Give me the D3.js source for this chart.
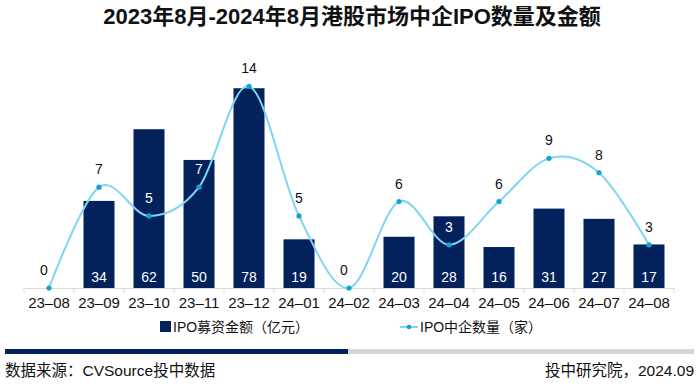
<!DOCTYPE html>
<html>
<head>
<meta charset="utf-8">
<script src="https://cdn.jsdelivr.net/npm/d3@7"></script>
<style>
  body { margin: 0; background: #fff; }
  text { font-family: "Liberation Sans", Arial, "Noto Sans CJK SC", sans-serif; }
</style>
</head>
<body>
<svg id="chart" width="700" height="389"></svg>
<script>
// months, IPO amount (亿元) and count (家)
var months = ["23-08","23-09","23-10","23-11","23-12","24-01","24-02","24-03","24-04","24-05","24-06","24-07","24-08"];
var amounts = [0, 34, 62, 50, 78, 19, 0, 20, 28, 16, 31, 27, 17];
var counts = [0, 7, 5, 7, 14, 5, 0, 6, 3, 6, 9, 8, 3];

var svg = d3.select("#chart");
var m = {left: 24, right: 674, top: 57.5, bottom: 288};

var x = d3.scaleBand().domain(months).range([m.left, m.right]);
var yBar = d3.scaleLinear().domain([0, 90]).range([m.bottom, m.top]);
var yLine = d3.scaleLinear().domain([0, 16]).range([m.bottom, m.top]);
var cx = d => x(d) + x.bandwidth() / 2;

// title
svg.append("text")
  .attr("x", 352).attr("y", 24)
  .attr("text-anchor", "middle")
  .attr("font-size", 22).attr("font-weight", "bold")
  .attr("fill", "#111")
  .text("2023年8月-2024年8月港股市场中企IPO数量及金额");

// bars
var barW = 31;
svg.selectAll(".bar").data(months).enter().append("rect")
  .attr("x", d => cx(d) - barW / 2)
  .attr("y", (d, i) => yBar(amounts[i]))
  .attr("width", barW)
  .attr("height", (d, i) => m.bottom - yBar(amounts[i]))
  .attr("fill", "#03215b");

svg.selectAll(".barlab").data(months).enter().append("text")
  .filter((d, i) => amounts[i] > 0)
  .attr("x", d => cx(d))
  .attr("y", m.bottom - 6)
  .attr("text-anchor", "middle")
  .attr("font-size", 14)
  .attr("fill", "#fff")
  .text(d => amounts[months.indexOf(d)]);

// axis
var axis = d3.axisBottom(x).tickSize(0).tickPadding(9).tickFormat(d => d.replace("-", "–"));
var gx = svg.append("g").attr("transform", "translate(0," + m.bottom + ")").call(axis);
gx.select(".domain").attr("stroke", "#d9d9d9");
gx.selectAll("text").attr("font-size", 15).attr("fill", "#111")
  .attr("font-family", "Liberation Sans, Arial, sans-serif");
gx.selectAll(".sep").data(d3.range(months.length + 1)).enter().append("line")
  .attr("x1", i => m.left + i * x.bandwidth()).attr("x2", i => m.left + i * x.bandwidth())
  .attr("y1", 0).attr("y2", 5)
  .attr("stroke", "#d9d9d9");

// line
var line = d3.line()
  .x((d, i) => cx(months[i]))
  .y(d => yLine(d))
  .curve(d3.curveCatmullRom.alpha(0));

svg.append("path").datum(counts)
  .attr("d", line)
  .attr("fill", "none")
  .attr("stroke", "#7fd5f2")
  .attr("stroke-width", 2);

svg.selectAll(".pt").data(counts).enter().append("circle")
  .attr("cx", (d, i) => cx(months[i]))
  .attr("cy", d => yLine(d))
  .attr("r", 2.6)
  .attr("fill", "#17a2d6");

// count labels: white where they sit over a bar
svg.selectAll(".ptlab").data(counts).enter().append("text")
  .attr("x", (d, i) => cx(months[i]) - (d === 0 ? 5 : 0))
  .attr("y", d => yLine(d) - 13)
  .attr("text-anchor", "middle")
  .attr("font-size", 14)
  .attr("fill", (d, i) => (yLine(d) - 23 > yBar(amounts[i]) && amounts[i] > 0) ? "#fff" : "#111")
  .text(d => d);

// legend
var lg = svg.append("g");
lg.append("rect").attr("x", 160).attr("y", 321).attr("width", 11).attr("height", 11).attr("fill", "#03215b");
lg.append("text").attr("x", 173).attr("y", 331.5).attr("font-size", 14).attr("fill", "#111").text("IPO募资金额（亿元）");
lg.append("line").attr("x1", 400).attr("x2", 418).attr("y1", 327).attr("y2", 327)
  .attr("stroke", "#7fd5f2").attr("stroke-width", 2);
lg.append("circle").attr("cx", 409).attr("cy", 327).attr("r", 2.3).attr("fill", "#17a2d6");
lg.append("text").attr("x", 420).attr("y", 331.5).attr("font-size", 14).attr("fill", "#111").text("IPO中企数量（家）");

// footer band
svg.append("rect").attr("x", 5).attr("y", 349).attr("width", 343).attr("height", 5).attr("fill", "#03215b");
svg.append("rect").attr("x", 348).attr("y", 349).attr("width", 346).attr("height", 5).attr("fill", "#d6d6d6");

svg.append("text").attr("x", 5).attr("y", 376).attr("font-size", 15.5).attr("fill", "#111")
  .text("数据来源：CVSource投中数据");
svg.append("text").attr("x", 694).attr("y", 376).attr("text-anchor", "end").attr("font-size", 15.5).attr("fill", "#111")
  .text("投中研究院，2024.09");
</script>
</body>
</html>
